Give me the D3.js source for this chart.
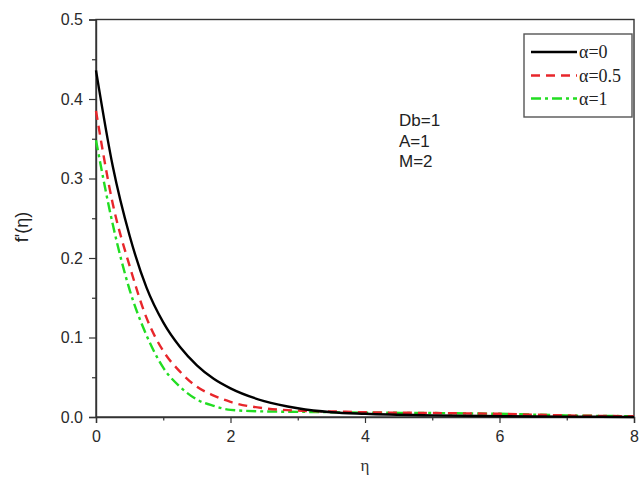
<!DOCTYPE html>
<html>
<head>
<meta charset="utf-8">
<script src="https://cdn.jsdelivr.net/npm/d3@7"></script>
<style>
  body { margin: 0; background: #fff; }
  svg { display: block; }
</style>
</head>
<body>
<svg id="chart" width="640" height="477"></svg>
<script>
// eta grid
var eta = [0, 0.25, 0.5, 0.75, 1, 1.25, 1.5, 1.75, 2, 2.5, 3, 3.5, 4, 5, 6, 7, 8]
// f'(eta) for each alpha
var alpha0  = [0.436, 0.315, 0.228, 0.163, 0.119, 0.088, 0.065, 0.048, 0.036, 0.02, 0.011, 0.006, 0.004, 0.002, 0.001, 0.0005, 0]
var alpha05 = [0.385, 0.268, 0.19, 0.125, 0.083, 0.057, 0.038, 0.027, 0.019, 0.011, 0.008, 0.007, 0.006, 0.005, 0.004, 0.002, 0.001]
var alpha1  = [0.348, 0.242, 0.16, 0.103, 0.062, 0.038, 0.022, 0.014, 0.009, 0.007, 0.0065, 0.006, 0.0055, 0.005, 0.004, 0.002, 0.001]

var seriesNames = ["\u03b1=0", "\u03b1=0.5", "\u03b1=1"]
var xTicks = [0, 2, 4, 6, 8]
var yTicks = [0, 0.1, 0.2, 0.3, 0.4, 0.5]
var notes = ["Db=1", "A=1", "M=2"]

var styles = [
	{color: "#000000", dash: null, w: 2.4},
	{color: "#e8262b", dash: "9,6", w: 2.4},
	{color: "#22dd22", dash: "10,4,3,4", w: 2.4}
]

var svg = d3.select("#chart")
var padding = {t: 19.5, r: 6, b: 60, l: 96}

var x = d3.scaleLinear().domain([0, 8]).range([padding.l, 634])
var y = d3.scaleLinear().domain([0, 0.5]).range([417, padding.t])

var axisColor = "#333"
var tickFont = "Liberation Sans, Arial, sans-serif"

// frame
svg.append("rect")
	.attr("x", x(0)).attr("y", y(0.5))
	.attr("width", x(8) - x(0)).attr("height", y(0) - y(0.5))
	.attr("fill", "none")
	.attr("stroke", axisColor)
	.attr("stroke-width", 1.4)

// bottom axis
var xAxis = svg.append("g")
	.attr("transform", "translate(0," + y(0) + ")")
	.call(d3.axisBottom(x).tickValues(xTicks).tickSize(6).tickFormat(d3.format("d")))
xAxis.select(".domain").attr("stroke", axisColor).attr("stroke-width", 1.4)
xAxis.selectAll(".tick line").attr("stroke", axisColor).attr("stroke-width", 1.2)
xAxis.selectAll(".tick text")
	.attr("fill", "#2a2a2a").attr("dy", "1.0em")
	.style("font-family", tickFont).style("font-size", "16px")

svg.append("g")
	.attr("transform", "translate(0," + y(0) + ")")
	.call(d3.axisBottom(x).tickValues([1, 3, 5, 7]).tickSize(3.5).tickFormat(""))
	.call(function(g) { g.select(".domain").remove() })
	.selectAll(".tick line").attr("stroke", axisColor).attr("stroke-width", 1.2)

// left axis
var yAxis = svg.append("g")
	.attr("transform", "translate(" + x(0) + ",0)")
	.call(d3.axisLeft(y).tickValues(yTicks).tickSize(7).tickFormat(d3.format(".1f")))
yAxis.select(".domain").attr("stroke", axisColor).attr("stroke-width", 1.4)
yAxis.selectAll(".tick line").attr("stroke", axisColor).attr("stroke-width", 1.2)
yAxis.selectAll(".tick text")
	.attr("fill", "#2a2a2a").attr("x", -13)
	.style("font-family", tickFont).style("font-size", "16px")

svg.append("g")
	.attr("transform", "translate(" + x(0) + ",0)")
	.call(d3.axisLeft(y).tickValues([0.05, 0.15, 0.25, 0.35, 0.45]).tickSize(4).tickFormat(""))
	.call(function(g) { g.select(".domain").remove() })
	.selectAll(".tick line").attr("stroke", axisColor).attr("stroke-width", 1.2)

// curves
var allSeries = [alpha0, alpha05, alpha1]
var line = d3.line()
	.x(function(d) { return x(d[0]) })
	.y(function(d) { return y(d[1]) })
	.curve(d3.curveMonotoneX)

// draw back to front so black sits on top
for (var i = allSeries.length - 1; i >= 0; i--) {
	var pts = eta.map(function(e, j) { return [e, allSeries[i][j]] })
	svg.append("path")
		.datum(pts)
		.attr("d", line)
		.attr("fill", "none")
		.attr("stroke", styles[i].color)
		.attr("stroke-width", styles[i].w)
		.attr("stroke-dasharray", styles[i].dash)
}

// legend
var legend = svg.append("g")
legend.append("rect")
	.attr("x", 524).attr("y", 34)
	.attr("width", 108).attr("height", 83)
	.attr("fill", "#fff")
	.attr("stroke", "#555")
	.attr("stroke-width", 1.4)

var rowY = [52, 75.5, 98.5]
seriesNames.forEach(function(name, i) {
	legend.append("line")
		.attr("x1", 531).attr("x2", 577)
		.attr("y1", rowY[i]).attr("y2", rowY[i])
		.attr("stroke", styles[i].color)
		.attr("stroke-width", styles[i].w)
		.attr("stroke-dasharray", styles[i].dash)
	legend.append("text")
		.attr("x", 579).attr("y", rowY[i] + 6)
		.style("font-family", "Liberation Serif, Times New Roman, serif")
		.style("font-size", "18px")
		.attr("fill", "#222")
		.text(name)
})

// parameter notes
notes.forEach(function(t, i) {
	svg.append("text")
		.attr("x", 399).attr("y", 126 + i * 20.5)
		.style("font-family", tickFont)
		.style("font-size", "17px")
		.attr("fill", "#222")
		.text(t)
})

// axis titles
svg.append("text")
	.attr("x", 365).attr("y", 471)
	.attr("text-anchor", "middle")
	.style("font-family", "Liberation Serif, Times New Roman, serif")
	.style("font-size", "17px")
	.attr("fill", "#333")
	.text("\u03b7")

svg.append("text")
	.attr("text-anchor", "middle")
	.attr("transform", "translate(28,227)rotate(-90)")
	.style("font-family", tickFont)
	.style("font-size", "18px")
	.attr("fill", "#222")
	.text("f'(\u03b7)")
</script>
</body>
</html>
